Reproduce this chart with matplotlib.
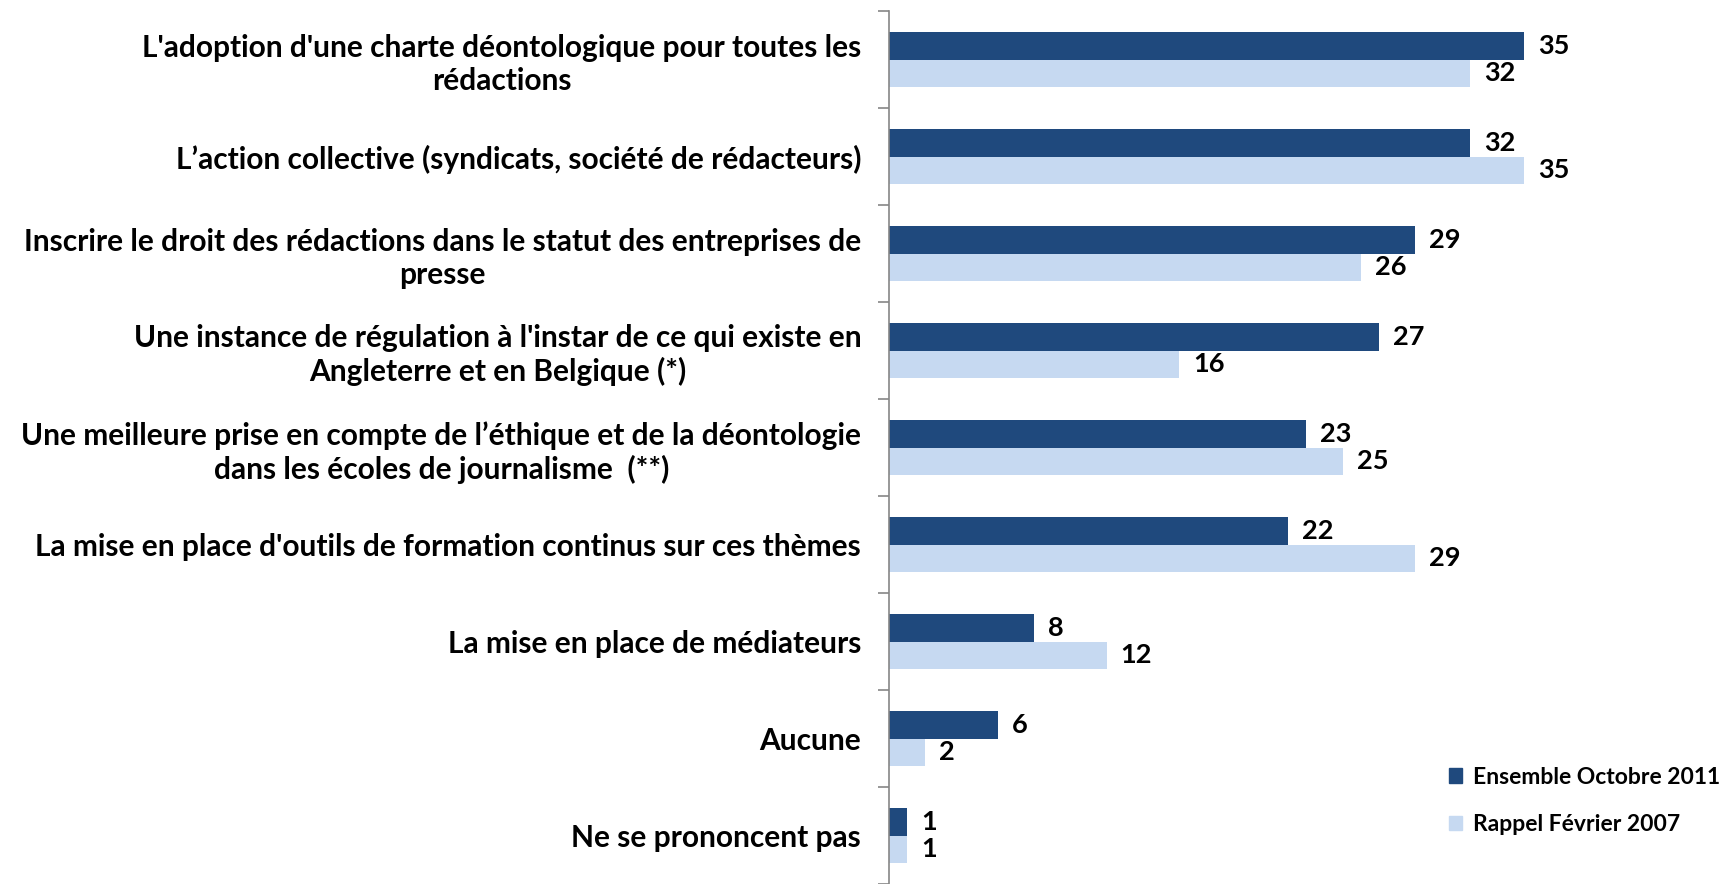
import matplotlib
matplotlib.use("Agg")
import matplotlib.pyplot as plt
import numpy as np
from matplotlib.patches import Patch

# data
categories = [
    "L'adoption d'une charte déontologique pour toutes les\nrédactions",
    "L\u2019action collective (syndicats, société de rédacteurs)",
    "Inscrire le droit des rédactions dans le statut des entreprises de\npresse",
    "Une instance de régulation à l'instar de ce qui existe en\nAngleterre et en Belgique (*)",
    "Une meilleure prise en compte de l\u2019éthique et de la déontologie\ndans les écoles de journalisme  (**)",
    "La mise en place d'outils de formation continus sur ces thèmes",
    "La mise en place de médiateurs",
    "Aucune",
    "Ne se prononcent pas",
]
oct_2011 = [35, 32, 29, 27, 23, 22, 8, 6, 1]
fev_2007 = [32, 35, 26, 16, 25, 29, 12, 2, 1]
series_names = ["Ensemble Octobre 2011", "Rappel Février 2007"]

dark = "#1F497D"
light = "#C6D9F1"

plt.rcParams['font.family'] = ['Lato', 'DejaVu Sans']
plt.rcParams['font.weight'] = 'bold'

fig = plt.figure(figsize=(17.3, 8.84), dpi=100)
ax = fig.add_axes([889 / 1730, 0.0, (1730 - 889) / 1730, (884 - 11) / 884])

y = np.arange(len(categories))
h = 0.285
ax.barh(y - h / 2, oct_2011, height=h, color=dark)
ax.barh(y + h / 2, fev_2007, height=h, color=light)

for i in range(len(categories)):
    for val, off in ((oct_2011[i], -h / 2), (fev_2007[i], h / 2)):
        ax.annotate(str(val), (val, i + off), xytext=(10, 0),
                    textcoords="offset points", va="center", ha="left",
                    fontsize=19.5, fontweight="bold", color="black")

ax.set_xlim(0, (1730 - 889) / 18.15)
ax.set_ylim(len(categories) - 0.5, -0.5)

# category labels at centres, boundary tick marks as minor ticks
ax.set_yticks(y)
ax.set_yticklabels(categories, fontsize=21.5, fontweight="bold")
for t in ax.get_yticklabels():
    t.set_multialignment("center")
ax.set_yticks(np.arange(-0.5, len(categories), 1), minor=True)
ax.tick_params(axis="y", which="major", length=0, pad=20)
ax.tick_params(axis="y", which="minor", length=8, color="#868686", width=1.2)
ax.set_xticks([])

for s in ("top", "right", "bottom"):
    ax.spines[s].set_visible(False)
ax.spines["left"].set_color("#868686")
ax.spines["left"].set_linewidth(1.2)

handles = [Patch(color=dark), Patch(color=light)]
fig.legend(handles, series_names, loc="center left",
           bbox_to_anchor=(1428 / 1730, 1 - 801 / 884), frameon=False,
           fontsize=16.5, handlelength=0.6, handleheight=0.6,
           handletextpad=0.45, labelspacing=1.15)

fig.savefig("out.png", dpi=100)
